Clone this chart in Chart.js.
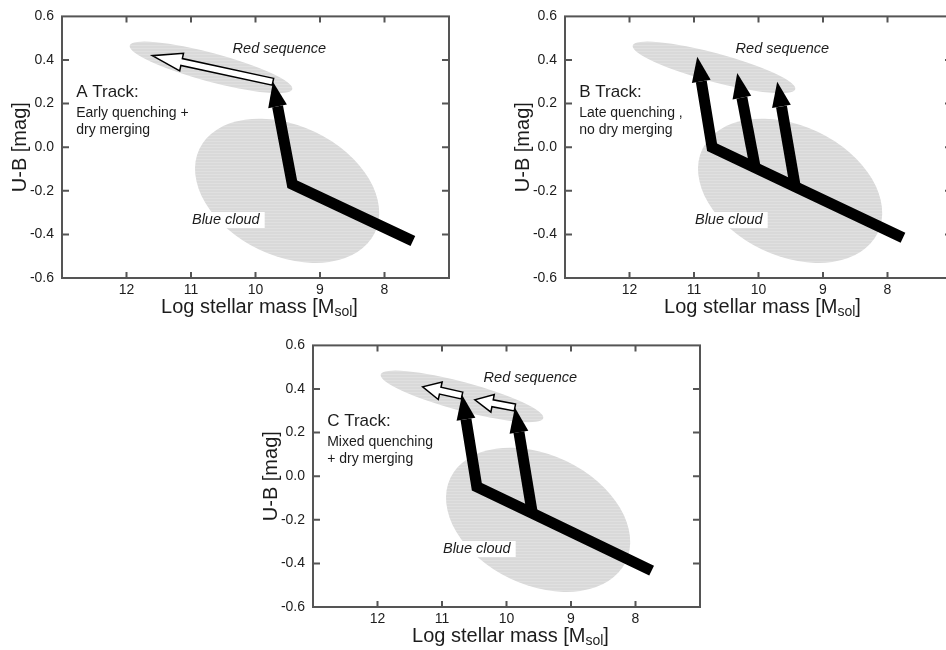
<!DOCTYPE html>
<html>
<head>
<meta charset="utf-8">
<title>Quenching tracks</title>
<script src="https://cdn.jsdelivr.net/npm/chart.js"></script>
<style>
  html, body { margin:0; padding:0; background:#fff; overflow:hidden; }
  body { width:946px; height:650px; position:relative; }
  canvas { position:absolute; }
  #panelA { left:0; top:0; }
  #panelB { left:503px; top:0; }
  #panelC { left:251px; top:329px; }
</style>
</head>
<body>
<canvas id="panelA" width="480" height="322"></canvas>
<canvas id="panelB" width="480" height="322"></canvas>
<canvas id="panelC" width="480" height="322"></canvas>
<script>
// ---------- data ----------
const xTicks = [12, 11, 10, 9, 8];
const yTicks = [-0.6, -0.4, -0.2, 0.0, 0.2, 0.4, 0.6];

// regions: centre x, centre y, end of long axis x, y, short/long ratio
const redSequence = [10.69, 0.366, 9.43, 0.266, 0.17];
const blueCloud = [9.51, -0.2, 8.15, -0.392, 0.67];

// A: early quenching then dry merging
const trackA = [[7.56, -0.43], [9.43, -0.17], [9.73, 0.30]];
const mergeA = [[9.73, 0.30], [11.6, 0.42]];

// B: late quenching, three exits from the blue cloud
const trackB = [[7.76, -0.415], [9.43, -0.181], [10.05, -0.094], [10.72, 0.0], [10.95, 0.415]];
const exitB1 = [[10.05, -0.094], [10.33, 0.34]];
const exitB2 = [[9.43, -0.181], [9.71, 0.30]];

// C: mixed quenching + dry merging
const trackC = [[7.75, -0.433], [9.6, -0.17], [10.46, -0.048], [10.69, 0.374]];
const exitC = [[9.6, -0.17], [9.87, 0.315]];
const mergeC1 = [[10.69, 0.37], [11.3, 0.41]];
const mergeC2 = [[9.87, 0.315], [10.49, 0.35]];

const trackTitles = ['A Track:', 'B Track:', 'C Track:'];
const trackNotes = [
  ['Early quenching +', 'dry merging'],
  ['Late quenching ,', 'no dry merging'],
  ['Mixed quenching', '+ dry merging']
];

// ---------- drawing ----------
const FONT = "'Liberation Sans', Arial, Helvetica, sans-serif";
const INK = '#1c1c1c';
const AXIS = '#555';

function pts(pairs) {
  return pairs.map(([x, y]) => ({ x, y }));
}

// faint horizontal banding inside the shaded regions
function bandPattern(ctx) {
  const c = document.createElement('canvas');
  c.width = 4; c.height = 3;
  const g = c.getContext('2d');
  g.fillStyle = '#d9d9d9'; g.fillRect(0, 0, 4, 3);
  g.fillStyle = '#e0e0e0'; g.fillRect(0, 0, 4, 1);
  return ctx.createPattern(c, 'repeat');
}

function toPx(chart, x, y) {
  return [chart.scales.x.getPixelForValue(x), chart.scales.y.getPixelForValue(y)];
}

function drawRegion(chart, r) {
  const ctx = chart.ctx;
  const [cx, cy] = toPx(chart, r[0], r[1]);
  const [ex, ey] = toPx(chart, r[2], r[3]);
  const a = Math.hypot(ex - cx, ey - cy);
  ctx.save();
  ctx.beginPath();
  ctx.ellipse(cx, cy, a, a * r[4], Math.atan2(ey - cy, ex - cx), 0, Math.PI * 2);
  ctx.fillStyle = bandPattern(ctx);
  ctx.fill();
  ctx.restore();
}

function endDir(meta) {
  const n = meta.data.length;
  const p = meta.data[n - 1], q = meta.data[n - 2];
  const len = Math.hypot(p.x - q.x, p.y - q.y);
  return { tip: [p.x, p.y], tail: [q.x, q.y], ux: (p.x - q.x) / len, uy: (p.y - q.y) / len };
}

function hollowArrow(ctx, d, o) {
  const nx = -d.uy, ny = d.ux;
  const [tx, ty] = d.tail, [px, py] = d.tip;
  const bx = px - d.ux * o.headL, by = py - d.uy * o.headL;
  const s = o.shaft / 2, h = o.headW / 2;
  ctx.save();
  ctx.beginPath();
  ctx.moveTo(tx + nx * s, ty + ny * s);
  ctx.lineTo(bx + nx * s, by + ny * s);
  ctx.lineTo(bx + nx * h, by + ny * h);
  ctx.lineTo(px, py);
  ctx.lineTo(bx - nx * h, by - ny * h);
  ctx.lineTo(bx - nx * s, by - ny * s);
  ctx.lineTo(tx - nx * s, ty - ny * s);
  ctx.closePath();
  ctx.fillStyle = '#fff';
  ctx.fill();
  ctx.lineWidth = 1.5;
  ctx.strokeStyle = '#000';
  ctx.lineJoin = 'miter';
  ctx.stroke();
  ctx.restore();
}

const HEAD_L = 25, HEAD_W = 19;

const diagram = {
  id: 'diagram',
  beforeDatasetsDraw(chart) {
    const ctx = chart.ctx;
    const k = chart.options.plugins.diagram.panel;
    drawRegion(chart, redSequence);
    drawRegion(chart, blueCloud);

    ctx.save();
    ctx.fillStyle = INK;
    ctx.textBaseline = 'middle';

    // region names
    ctx.font = `italic 14.5px ${FONT}`;
    ctx.textAlign = 'center';
    let [x, y] = toPx(chart, 9.63, 0.45);
    ctx.fillText('Red sequence', x, y);
    [x, y] = toPx(chart, 10.46, -0.334);
    const w = ctx.measureText('Blue cloud').width;
    ctx.fillStyle = '#fff';
    ctx.fillRect(x - w / 2 - 3, y - 8, w + 8, 16);
    ctx.fillStyle = INK;
    ctx.fillText('Blue cloud', x, y);

    // track description
    ctx.textAlign = 'left';
    ctx.font = `17px ${FONT}`;
    [x, y] = toPx(chart, 12.78, 0.25);
    ctx.fillText(trackTitles[k], x, y);
    ctx.font = `14px ${FONT}`;
    [x, y] = toPx(chart, 12.78, 0.155);
    ctx.fillText(trackNotes[k][0], x, y);
    [x, y] = toPx(chart, 12.78, 0.078);
    ctx.fillText(trackNotes[k][1], x, y);
    ctx.restore();
  },
  beforeDatasetDraw(chart, args) {
    const ds = chart.data.datasets[args.index];
    if (!ds.head) return;
    // keep the thick line out of the arrowhead area
    const d = endDir(args.meta);
    const nx = -d.uy, ny = d.ux;
    const bx = d.tip[0] - d.ux * HEAD_L, by = d.tip[1] - d.uy * HEAD_L;
    const fx = d.tip[0] + d.ux * 4, fy = d.tip[1] + d.uy * 4;
    const ctx = chart.ctx;
    ctx.save();
    ctx.beginPath();
    ctx.rect(0, 0, chart.width, chart.height);
    ctx.moveTo(bx + nx * HEAD_W, by + ny * HEAD_W);
    ctx.lineTo(fx + nx * HEAD_W, fy + ny * HEAD_W);
    ctx.lineTo(fx - nx * HEAD_W, fy - ny * HEAD_W);
    ctx.lineTo(bx - nx * HEAD_W, by - ny * HEAD_W);
    ctx.closePath();
    ctx.clip('evenodd');
  },
  afterDatasetDraw(chart, args) {
    const ds = chart.data.datasets[args.index];
    const ctx = chart.ctx;
    if (ds.head) {
      ctx.restore();
      const d = endDir(args.meta);
      const nx = -d.uy, ny = d.ux;
      const bx = d.tip[0] - d.ux * HEAD_L, by = d.tip[1] - d.uy * HEAD_L;
      ctx.save();
      ctx.beginPath();
      ctx.moveTo(d.tip[0], d.tip[1]);
      ctx.lineTo(bx + nx * HEAD_W / 2, by + ny * HEAD_W / 2);
      ctx.lineTo(bx - nx * HEAD_W / 2, by - ny * HEAD_W / 2);
      ctx.closePath();
      ctx.fillStyle = ds.borderColor;
      ctx.fill();
      ctx.restore();
    }
    if (ds.hollow) {
      hollowArrow(ctx, endDir(args.meta), ds.hollow);
    }
  },
  afterDraw(chart) {
    const ctx = chart.ctx;
    const a = chart.chartArea;
    const sx = chart.scales.x, sy = chart.scales.y;
    ctx.save();
    ctx.strokeStyle = AXIS;
    ctx.lineWidth = 2;
    ctx.strokeRect(a.left, a.top, a.right - a.left, a.bottom - a.top);
    // inward ticks on all four sides
    ctx.beginPath();
    xTicks.forEach(v => {
      const p = sx.getPixelForValue(v);
      ctx.moveTo(p, a.bottom); ctx.lineTo(p, a.bottom - 6);
      ctx.moveTo(p, a.top); ctx.lineTo(p, a.top + 6);
    });
    yTicks.slice(1, -1).forEach(v => {
      const p = sy.getPixelForValue(v);
      ctx.moveTo(a.left, p); ctx.lineTo(a.left + 7, p);
      ctx.moveTo(a.right, p); ctx.lineTo(a.right - 7, p);
    });
    ctx.stroke();

    // x title with subscript
    const main = 'Log stellar mass [M', sub = 'sol', close = ']';
    ctx.fillStyle = INK;
    ctx.textBaseline = 'alphabetic';
    ctx.textAlign = 'left';
    ctx.font = `20px ${FONT}`;
    const w1 = ctx.measureText(main).width, w3 = ctx.measureText(close).width;
    ctx.font = `14px ${FONT}`;
    const w2 = ctx.measureText(sub).width;
    let x0 = (a.left + a.right) / 2 + 4 - (w1 + w2 + w3) / 2;
    const base = a.bottom + 35;
    ctx.font = `20px ${FONT}`;
    ctx.fillText(main, x0, base);
    ctx.font = `14px ${FONT}`;
    ctx.fillText(sub, x0 + w1, base + 3);
    ctx.font = `20px ${FONT}`;
    ctx.fillText(close, x0 + w1 + w2, base);
    ctx.restore();
  }
};

function track(pairs) {
  return {
    data: pts(pairs), showLine: true, head: true,
    borderColor: '#000', borderWidth: 11, borderJoinStyle: 'miter', borderCapStyle: 'butt',
    pointRadius: 0, tension: 0
  };
}

function merger(pairs, headL) {
  return {
    data: pts(pairs), showLine: false, pointRadius: 0,
    hollow: { shaft: 7, headW: 18, headL: headL }
  };
}

function panel(id, k, datasets) {
  return new Chart(document.getElementById(id), {
    type: 'scatter',
    data: { datasets },
    plugins: [diagram],
    options: {
      responsive: false,
      animation: false,
      events: [],
      layout: { padding: { left: 0, top: 13, right: 31, bottom: 0 } },
      plugins: {
        legend: { display: false },
        tooltip: { enabled: false },
        diagram: { panel: k }
      },
      scales: {
        x: {
          type: 'linear', min: 7, max: 13, reverse: true,
          afterBuildTicks: s => { s.ticks = xTicks.map(v => ({ value: v })); },
          afterFit: s => { s.height = 44; },
          grid: { display: false, drawTicks: false },
          border: { display: false },
          ticks: {
            font: { family: FONT, size: 14 }, color: INK, padding: 4,
            maxRotation: 0, autoSkip: false, callback: v => String(v)
          }
        },
        y: {
          type: 'linear', min: -0.6, max: 0.6,
          afterBuildTicks: s => { s.ticks = yTicks.map(v => ({ value: v })); },
          afterFit: s => { s.width = 62; },
          grid: { display: false, drawTicks: false },
          border: { display: false },
          ticks: {
            font: { family: FONT, size: 14 }, color: INK, padding: 8,
            autoSkip: false, callback: v => v.toFixed(1)
          },
          title: {
            display: true, text: 'U-B [mag]', color: INK,
            font: { family: FONT, size: 20 }, padding: { top: 8.6, bottom: 0 }
          }
        }
      }
    }
  });
}

panel('panelA', 0, [track(trackA), merger(mergeA, 30)]);
panel('panelB', 1, [track(trackB), track(exitB1), track(exitB2)]);
panel('panelC', 2, [track(trackC), track(exitC), merger(mergeC1, 18), merger(mergeC2, 18)]);
</script>
</body>
</html>
